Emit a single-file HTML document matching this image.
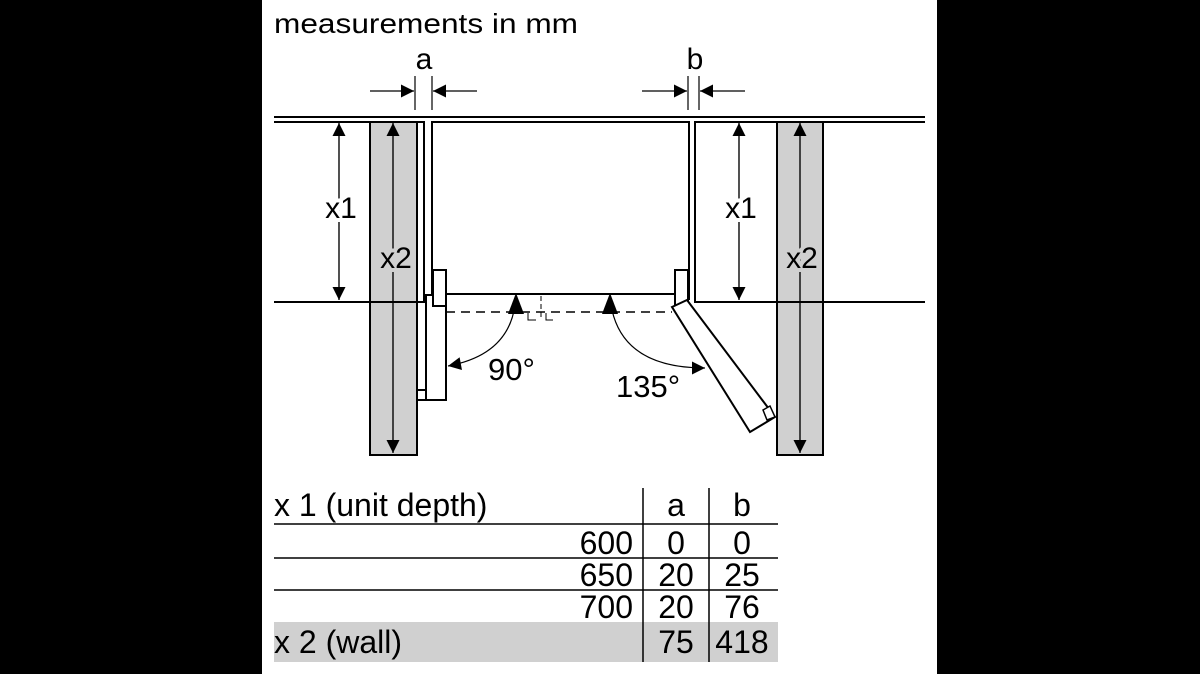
<!DOCTYPE html>
<html><head><meta charset="utf-8"><style>
html,body{margin:0;padding:0;background:#000;}
svg{display:block;}
text{font-family:"Liberation Sans",Arial,sans-serif;fill:#000;}
</style></head><body>
<svg width="1200" height="674" viewBox="0 0 1200 674" xmlns="http://www.w3.org/2000/svg">
<defs>
<marker id="ab" viewBox="0 0 10 10" refX="10" refY="5" markerWidth="17" markerHeight="13" markerUnits="userSpaceOnUse" orient="auto"><path d="M0,0 L10,5 L0,10z" fill="#000"/></marker>
</defs>
<rect x="262" y="0" width="675" height="674" fill="#fff"/>
<text x="274" y="33" font-size="28" textLength="304" lengthAdjust="spacingAndGlyphs">measurements in mm</text>

<rect x="370" y="122" width="47" height="333" fill="#d0d0d0" stroke="#000" stroke-width="2"/>
<rect x="777" y="122" width="46" height="333" fill="#d0d0d0" stroke="#000" stroke-width="2"/>

<g stroke="#000" stroke-width="2" fill="none">
<line x1="274" y1="117" x2="925" y2="117"/>
<polyline points="274,122 424,122 424,302 274,302"/>
<polyline points="432,295 432,122 689,122 689,300"/>
<polyline points="925,122 695,122 695,302 925,302"/>
<polyline points="417,122 417,400 426,400 426,300"/>
<line x1="417" y1="390" x2="426" y2="390"/>
<rect x="426" y="295" width="20" height="105" fill="#fff"/>
<rect x="433" y="270" width="13" height="36" fill="#fff"/>
<line x1="446" y1="294" x2="675" y2="294"/>
<rect x="675" y="270" width="13" height="36" fill="#fff"/>
<polygon points="672,307 687,300 775,417 750,432" fill="#fff"/>
<polygon points="763,410 770,406 775,417 767,420" fill="#fff" stroke-width="1.5"/>
</g>
<g stroke="#000" stroke-width="1.5" fill="none">
<line x1="446" y1="312" x2="672" y2="312" stroke-dasharray="9,6"/>
<line x1="541" y1="296" x2="541" y2="320" stroke-dasharray="5,3" stroke-width="1"/>
<polyline points="528,313 528,320 536,320" stroke-width="1"/>
<polyline points="546,313 546,320 553,320" stroke-width="1"/>
</g>
<g stroke="#000" stroke-width="1.2" fill="none">
<line x1="339" y1="300" x2="339" y2="123" marker-end="url(#ab)"/>
<line x1="339" y1="123" x2="339" y2="300" marker-end="url(#ab)"/>
<line x1="393" y1="453" x2="393" y2="123" marker-end="url(#ab)"/>
<line x1="393" y1="123" x2="393" y2="453" marker-end="url(#ab)"/>
<line x1="739" y1="300" x2="739" y2="123" marker-end="url(#ab)"/>
<line x1="739" y1="123" x2="739" y2="300" marker-end="url(#ab)"/>
<line x1="800" y1="453" x2="800" y2="123" marker-end="url(#ab)"/>
<line x1="800" y1="123" x2="800" y2="453" marker-end="url(#ab)"/>
<line x1="415" y1="76" x2="415" y2="110"/><line x1="432" y1="76" x2="432" y2="110"/>
<line x1="370" y1="91" x2="414" y2="91" marker-end="url(#ab)"/>
<line x1="477" y1="91" x2="433" y2="91" marker-end="url(#ab)"/>
<line x1="688" y1="76" x2="688" y2="110"/><line x1="699" y1="76" x2="699" y2="110"/>
<line x1="642" y1="91" x2="687" y2="91" marker-end="url(#ab)"/>
<line x1="745" y1="91" x2="700" y2="91" marker-end="url(#ab)"/>
<path d="M515,305 Q508,355 448,366" marker-end="url(#ab)"/>
<path d="M612,310 Q625,368 705,368" marker-end="url(#ab)"/>
</g>
<path d="M508,314 L516,293 L524,314z" fill="#000"/>
<path d="M602,314 L610,293 L618,314z" fill="#000"/>
<g font-size="30">
<text x="424" y="69" text-anchor="middle">a</text>
<text x="695" y="69" text-anchor="middle">b</text>
<text x="341" y="218" text-anchor="middle" style="paint-order:stroke" stroke="#fff" stroke-width="8">x1</text>
<text x="396" y="268" text-anchor="middle" style="paint-order:stroke" stroke="#d0d0d0" stroke-width="8">x2</text>
<text x="741" y="218" text-anchor="middle" style="paint-order:stroke" stroke="#fff" stroke-width="8">x1</text>
<text x="802" y="268" text-anchor="middle" style="paint-order:stroke" stroke="#d0d0d0" stroke-width="8">x2</text>
<text x="488" y="380" font-size="31">90°</text>
<text x="616" y="397" font-size="31">135°</text>
</g>

<rect x="274" y="622" width="504" height="40" fill="#d0d0d0"/>
<g stroke="#000" stroke-width="1.5">
<line x1="274" y1="524" x2="778" y2="524"/>
<line x1="274" y1="558" x2="778" y2="558"/>
<line x1="274" y1="590" x2="778" y2="590"/>
<line x1="643" y1="488" x2="643" y2="662"/>
<line x1="709" y1="488" x2="709" y2="662"/>
</g>
<g font-size="32">
<text x="274" y="516">x 1 (unit depth)</text>
<text x="676" y="516" text-anchor="middle">a</text>
<text x="742" y="516" text-anchor="middle">b</text>
<text x="633" y="554" text-anchor="end">600</text>
<text x="676" y="554" text-anchor="middle">0</text>
<text x="742" y="554" text-anchor="middle">0</text>
<text x="633" y="586" text-anchor="end">650</text>
<text x="676" y="586" text-anchor="middle">20</text>
<text x="742" y="586" text-anchor="middle">25</text>
<text x="633" y="618" text-anchor="end">700</text>
<text x="676" y="618" text-anchor="middle">20</text>
<text x="742" y="618" text-anchor="middle">76</text>
<text x="274" y="653">x 2 (wall)</text>
<text x="676" y="653" text-anchor="middle">75</text>
<text x="742" y="653" text-anchor="middle">418</text>
</g>
</svg>
</body></html>
